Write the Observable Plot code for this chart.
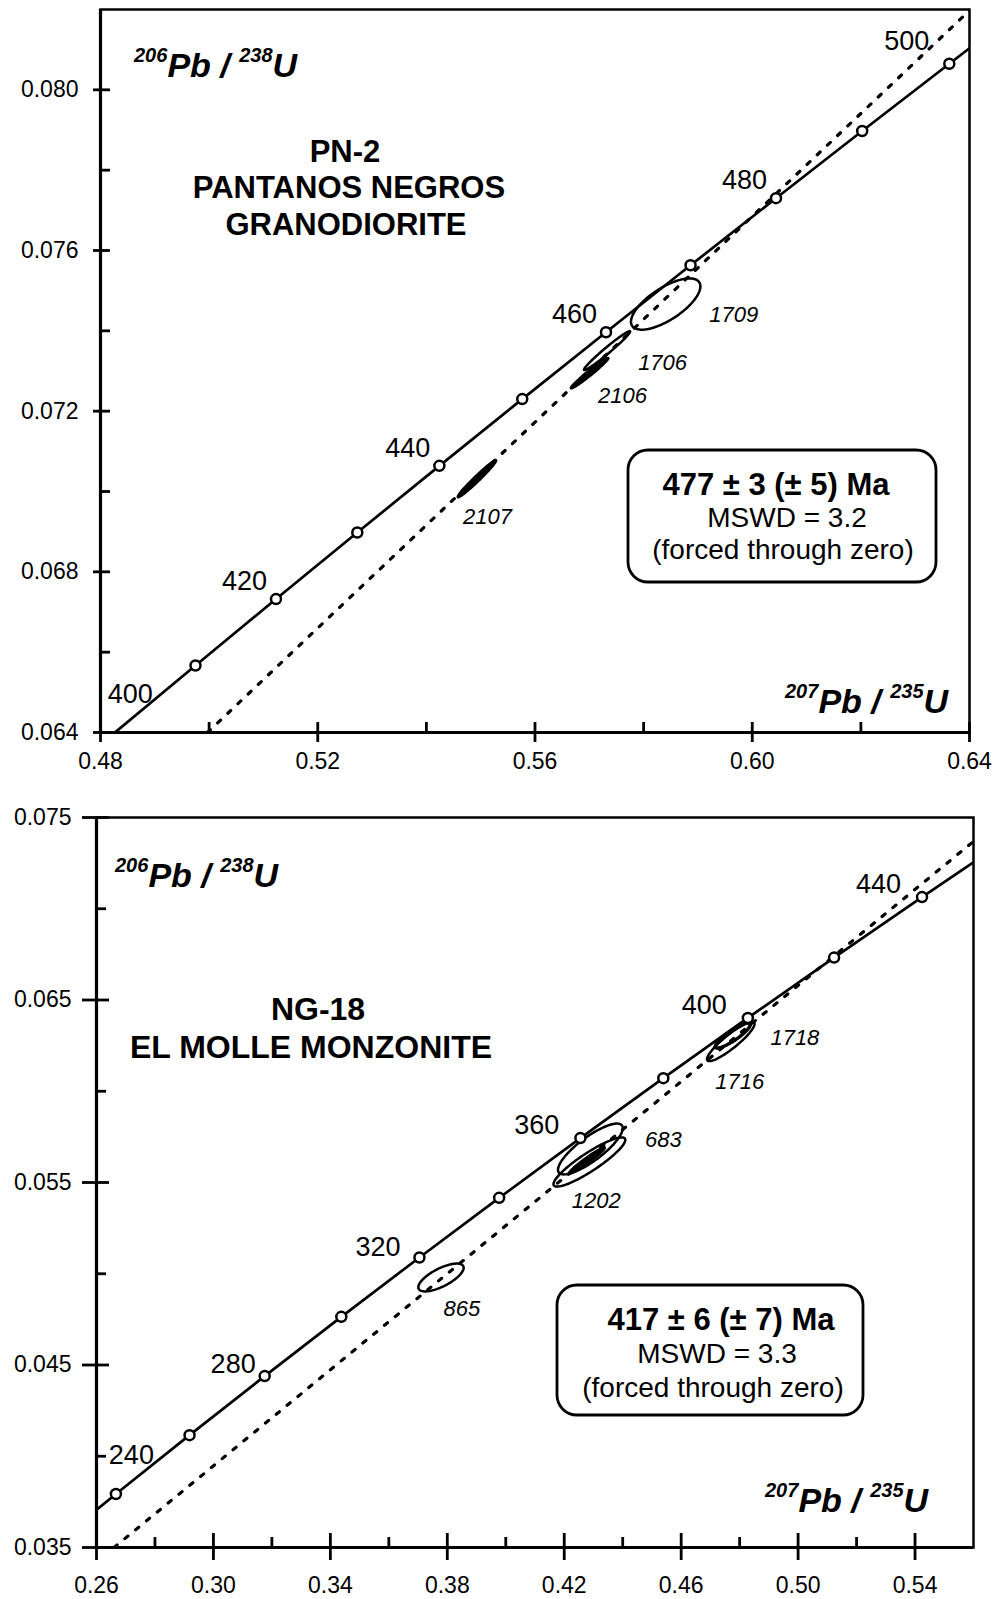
<!DOCTYPE html>
<html><head><meta charset="utf-8">
<script src="https://cdn.jsdelivr.net/npm/d3@7"></script>
<script src="https://cdn.jsdelivr.net/npm/@observablehq/plot@0.6"></script>
<style>
body{margin:0;background:#fff;}
#wrap{position:relative;width:1006px;height:1599px;background:#fff;overflow:hidden}
#top,#bot{position:absolute;left:0}
#top{top:0} #bot{top:790px}
</style></head><body>
<div id="wrap"><div id="top"></div><div id="bot"></div></div>
<script>
const FONT = "'Liberation Sans', Arial, Helvetica, sans-serif";

// ---------- PN-2 Pantanos Negros granodiorite (upper diagram) ----------
const pn2ConcAge = [390, 400, 410, 420, 430, 440, 450, 460, 470, 480, 490, 500, 510];
const pn2ConcX = [0.46828, 0.48281, 0.49749, 0.51231, 0.52728, 0.54239, 0.55765, 0.57307, 0.58864, 0.60437, 0.62024, 0.63628, 0.65248];
const pn2ConcY = [0.062366, 0.064016, 0.065667, 0.067322, 0.068979, 0.070638, 0.072300, 0.073965, 0.075632, 0.077302, 0.078975, 0.080650, 0.082328];
const pn2MarkerAges = [410, 420, 430, 440, 450, 460, 470, 480, 490, 500];
const pn2LabelAges = [400, 420, 440, 460, 480, 500];
const pn2DiscX = [0.4997, 0.6402];
const pn2DiscY = [0.0640, 0.0820];
const pn2Spot = ["1709", "1706", "2106", "2107"];
const pn2SpotX = [0.58406, 0.57327, 0.57005, 0.54931];
const pn2SpotY = [0.074667, 0.073508, 0.072947, 0.070318];
const pn2SpotHx = [0.00639, 0.00425, 0.00345, 0.00353];
const pn2SpotHy = [0.000638, 0.000484, 0.000379, 0.000461];
const pn2SpotRho = [0.69, 0.98, 0.98, 0.98];
const pn2SpotLabel = ["1709", "1706", "2106", "2107"];
const pn2SpotLabelX = [0.59207, 0.57899, 0.57161, 0.54673];
const pn2SpotLabelY = [0.074218, 0.073022, 0.072199, 0.069184];
const pn2XMajor = [0.48, 0.52, 0.56, 0.60, 0.64];
const pn2XMinor = [0.50, 0.54, 0.58, 0.62];
const pn2YMajor = [0.064, 0.068, 0.072, 0.076, 0.080];
const pn2YMinor = [0.066, 0.070, 0.074, 0.078];

// ---------- NG-18 El Molle monzonite (lower diagram) ----------
const ng18ConcAge = [220, 240, 260, 280, 300, 320, 340, 360, 380, 400, 420, 440, 460];
const ng18ConcX = [0.24193, 0.26664, 0.29183, 0.31753, 0.34374, 0.37047, 0.39773, 0.42553, 0.45389, 0.48281, 0.51231, 0.54239, 0.57307];
const ng18ConcY = [0.034716, 0.037932, 0.041157, 0.044392, 0.047637, 0.050892, 0.054158, 0.057433, 0.060719, 0.064016, 0.067322, 0.070638, 0.073965];
const ng18MarkerAges = [240, 260, 280, 300, 320, 340, 360, 380, 400, 420, 440];
const ng18LabelAges = [240, 280, 320, 360, 400, 440];
const ng18DiscX = [0.2660, 0.5600];
const ng18DiscY = [0.0350, 0.07369];
const ng18Spot = ["683", "1202", "1202c", "1716", "1718", "865"];
const ng18SpotX = [0.42895, 0.42861, 0.42775, 0.47698, 0.47767, 0.37784];
const ng18SpotY = [0.056836, 0.056123, 0.056205, 0.062726, 0.063055, 0.049795];
const ng18SpotHx = [0.01108, 0.01228, 0.00614, 0.00813, 0.00602, 0.00775];
const ng18SpotHy = [0.001392, 0.001348, 0.000718, 0.001074, 0.000688, 0.000762];
const ng18SpotRho = [0.82, 0.90, 0.97, 0.90, 0.88, 0.70];
const ng18SpotLabel = ["683", "1202", "1716", "1718", "865"];
const ng18SpotLabelX = [0.44765, 0.42261, 0.47166, 0.49053, 0.3787];
const ng18SpotLabelY = [0.056918, 0.05363, 0.06015, 0.06251, 0.04771];
const ng18XMajor = [0.26, 0.30, 0.34, 0.38, 0.42, 0.46, 0.50, 0.54];
const ng18XMinor = [0.28, 0.32, 0.36, 0.40, 0.44, 0.48, 0.52];
const ng18YMajor = [0.035, 0.045, 0.055, 0.065, 0.075];
const ng18YMinor = [0.040, 0.050, 0.060, 0.070];

function ellipseOutline(s, n = 96) {
  const q = Math.sqrt(1 - s.rho * s.rho);
  return d3.range(n).map(i => {
    const t = 2 * Math.PI * i / n;
    return {id: s.id, x: s.x + s.hx * Math.cos(t), y: s.y + s.hy * (s.rho * Math.cos(t) + q * Math.sin(t))};
  });
}

function makePanel(o) {
  const conc = o.concAge.map((a, i) => ({age: a, x: o.concX[i], y: o.concY[i]}));
  const markers = conc.filter(d => o.markerAges.includes(d.age));
  const labs = conc.filter(d => o.labelAges.includes(d.age));
  const disc = o.discX.map((x, i) => ({x, y: o.discY[i]}));
  const spots = o.spot.map((id, i) => ({id, x: o.spotX[i], y: o.spotY[i], hx: o.spotHx[i], hy: o.spotHy[i], rho: o.spotRho[i]}));
  const spotLabels = o.spotLabel.map((t, i) => ({t, x: o.spotLabelX[i], y: o.spotLabelY[i]}));
  return Plot.plot({
    width: 1006, height: o.height,
    marginLeft: o.ml, marginRight: o.mr, marginTop: o.mt, marginBottom: o.mb,
    x: {domain: o.xDomain, label: null},
    y: {domain: o.yDomain, label: null},
    style: {background: "white", color: "black", fontFamily: FONT, fontSize: "23px", overflow: "visible"},
    marks: [
      Plot.line(disc, {x: "x", y: "y", stroke: "black", strokeWidth: 3.2, strokeDasharray: "4,10", clip: true}),
      ...spots.map(s => Plot.line(ellipseOutline(s), {
        x: "x", y: "y", curve: "linear-closed", stroke: "black",
        strokeWidth: (o.thick || []).includes(s.id) ? 3.4 : 2.5,
        fill: o.filled.includes(s.id) ? "black" : "none"
      })),
      Plot.line(conc, {x: "x", y: "y", curve: "natural", stroke: "black", strokeWidth: 2.7, clip: true}),
      Plot.dot(markers, {x: "x", y: "y", r: 5, fill: "white", stroke: "black", strokeWidth: 2.5}),
      ...labs.map(d => {
        const off = o.labelOff[d.age] || o.labelOffDefault;
        return Plot.text([d], {x: "x", y: "y", text: e => String(e.age), textAnchor: "end", lineAnchor: "bottom",
          dx: off[0], dy: off[1], fontSize: 27, fill: "black"});
      }),
      Plot.text(spotLabels, {x: "x", y: "y", text: "t", textAnchor: "start", lineAnchor: "bottom",
        fontStyle: "italic", fontSize: 22, fill: "black"}),
      Plot.frame({stroke: "black", strokeWidth: 2.5}),
      Plot.ruleX([o.xDomain[0]], {stroke: "black", strokeWidth: 3.2}),
      Plot.ruleY([o.yDomain[0]], {stroke: "black", strokeWidth: 3.2}),
      Plot.axisX({ticks: o.xMajor, tickSize: o.xMajSize, dy: -o.xMajIn, tickFormat: () => "", strokeWidth: 2.8, label: null}),
      Plot.axisX({ticks: o.xMinor, tickSize: 10, dy: -10, tickFormat: () => "", strokeWidth: 2.8, label: null}),
      Plot.axisX({ticks: o.xMajor, tickSize: 0, tickPadding: o.xPad, tickFormat: d3.format(".2f"), fontSize: 23, label: null}),
      Plot.axisY({ticks: o.yMajor, tickSize: o.yMajSize, dx: o.yMajIn, tickFormat: () => "", strokeWidth: 2.8, label: null}),
      Plot.axisY({ticks: o.yMinor, tickSize: 10, dx: 10, tickFormat: () => "", strokeWidth: 2.8, label: null}),
      Plot.axisY({ticks: o.yMajor, tickSize: 0, tickPadding: o.yPad, tickFormat: d3.format(".3f"), fontSize: 23, label: null})
    ]
  });
}

function ratioLabel(svg, x, y, s1, b1, s2, b2) {
  const t = d3.select(svg).append("text").attr("x", x).attr("y", y).attr("text-anchor", "start")
    .attr("font-family", FONT).attr("font-weight", "bold").attr("font-style", "italic")
    .attr("font-size", 34).attr("fill", "black").style("white-space", "pre");
  t.append("tspan").attr("font-size", 20).attr("dy", -15).text(s1);
  t.append("tspan").attr("dy", 15).text(b1);
  t.append("tspan").attr("font-size", 20).attr("dy", -15).text(s2);
  t.append("tspan").attr("dy", 15).text(b2);
}
function centered(svg, x, y, txt, size, weight) {
  d3.select(svg).append("text").attr("x", x).attr("y", y).attr("text-anchor", "middle")
    .attr("font-family", FONT).attr("font-size", size).attr("font-weight", weight)
    .attr("fill", "black").style("white-space", "pre").text(txt);
}
function box(svg, x, y, w, h) {
  d3.select(svg).append("rect").attr("x", x).attr("y", y).attr("width", w).attr("height", h)
    .attr("rx", 20).attr("ry", 20).attr("fill", "white").attr("stroke", "black").attr("stroke-width", 2.8);
}

const topSvg = makePanel({
  height: 790, ml: 100, mr: 37, mt: 9, mb: 58,
  xDomain: [0.48, 0.64], yDomain: [0.064, 0.082],
  concAge: pn2ConcAge, concX: pn2ConcX, concY: pn2ConcY,
  markerAges: pn2MarkerAges, labelAges: pn2LabelAges,
  labelOffDefault: [-9, -9], labelOff: {400: [37, -29], 500: [-20, -14]},
  discX: pn2DiscX, discY: pn2DiscY,
  spot: pn2Spot, spotX: pn2SpotX, spotY: pn2SpotY, spotHx: pn2SpotHx, spotHy: pn2SpotHy, spotRho: pn2SpotRho,
  spotLabel: pn2SpotLabel, spotLabelX: pn2SpotLabelX, spotLabelY: pn2SpotLabelY,
  filled: ["2106", "2107"], thick: [],
  xMajor: pn2XMajor, xMinor: pn2XMinor, yMajor: pn2YMajor, yMinor: pn2YMinor,
  xMajSize: 20, xMajIn: 10, yMajSize: 17, yMajIn: 10, xPad: 20, yPad: 22
});
document.getElementById("top").appendChild(topSvg);
ratioLabel(topSvg, 134, 77, "206", "Pb / ", "238", "U");
ratioLabel(topSvg, 785, 713, "207", "Pb / ", "235", "U");
centered(topSvg, 345, 162, "PN-2", 31, "bold");
centered(topSvg, 349, 198, "PANTANOS NEGROS", 31, "bold");
centered(topSvg, 346, 235, "GRANODIORITE", 31, "bold");
box(topSvg, 628, 450, 308, 132);
centered(topSvg, 776, 495, "477 ± 3 (± 5) Ma", 31, "bold");
centered(topSvg, 787, 527, "MSWD = 3.2", 28, "normal");
centered(topSvg, 783, 559, "(forced through zero)", 28, "normal");

const botSvg = makePanel({
  height: 809, ml: 96, mr: 33, mt: 27, mb: 52,
  xDomain: [0.26, 0.56], yDomain: [0.035, 0.075],
  concAge: ng18ConcAge, concX: ng18ConcX, concY: ng18ConcY,
  markerAges: ng18MarkerAges, labelAges: ng18LabelAges,
  labelOffDefault: [-21, -4], labelOff: {240: [38, -30], 280: [-9, -3], 320: [-19, -1]},
  discX: ng18DiscX, discY: ng18DiscY,
  spot: ng18Spot, spotX: ng18SpotX, spotY: ng18SpotY, spotHx: ng18SpotHx, spotHy: ng18SpotHy, spotRho: ng18SpotRho,
  spotLabel: ng18SpotLabel, spotLabelX: ng18SpotLabelX, spotLabelY: ng18SpotLabelY,
  filled: ["1202c"], thick: ["1718"],
  xMajor: ng18XMajor, xMinor: ng18XMinor, yMajor: ng18YMajor, yMinor: ng18YMinor,
  xMajSize: 27, xMajIn: 14, yMajSize: 27, yMajIn: 13, xPad: 29, yPad: 25
});
document.getElementById("bot").appendChild(botSvg);
ratioLabel(botSvg, 115, 97, "206", "Pb / ", "238", "U");
ratioLabel(botSvg, 765, 722, "207", "Pb / ", "235", "U");
centered(botSvg, 318, 230, "NG-18", 32, "bold");
centered(botSvg, 311, 268, "EL MOLLE MONZONITE", 32, "bold");
box(botSvg, 557, 495, 306, 130);
centered(botSvg, 721, 540, "417 ± 6 (± 7) Ma", 31, "bold");
centered(botSvg, 717, 573, "MSWD = 3.3", 28, "normal");
centered(botSvg, 713, 607, "(forced through zero)", 28, "normal");
</script>
</body></html>
